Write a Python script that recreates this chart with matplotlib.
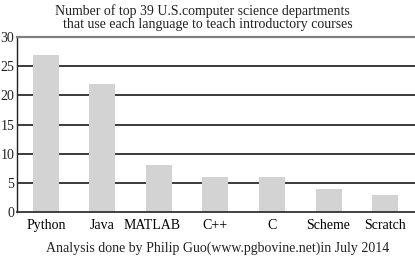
import matplotlib
matplotlib.use("Agg")
import matplotlib.pyplot as plt
from matplotlib.transforms import ScaledTranslation

languages = ["Python", "Java", "MATLAB", "C++", "C", "Scheme", "Scratch"]
counts = [27, 22, 8, 6, 6, 4, 3]
yticks = [0, 5, 10, 15, 20, 25, 30]

plt.rcParams['font.family'] = ['Liberation Serif', 'DejaVu Serif']

fig = plt.figure(figsize=(4.15, 2.61), dpi=100)
ax = fig.add_axes([17/415, 49/261, (415-17)/415, (211-36)/261])

for y in yticks[1:-1]:
    ax.axhline(y, color='#1a1a1a', lw=1.2, zorder=0)
x = list(range(len(languages)))
ax.bar(x, counts, width=0.46, color='#d3d3d3', zorder=2)

ax.set_xlim(-0.51, 6.53)
ax.set_ylim(0, 30)
ax.set_yticks(yticks)
ax.set_xticks(x)
ax.set_xticklabels(languages, fontsize=10)
ax.tick_params(axis='y', labelsize=10, length=0, pad=2)
ax.tick_params(axis='x', length=0, pad=5)
for lbl in ax.get_yticklabels():
    lbl.set_color('#222222')

ax.spines['right'].set_visible(False)
ax.spines['top'].set_color('#808080')
ax.spines['top'].set_linewidth(1.6)
ax.spines['left'].set_color('#222222')
ax.spines['bottom'].set_color('#222222')
ax.spines['left'].set_linewidth(1.0)
ax.spines['bottom'].set_linewidth(1.2)

# MATLAB label shifted slightly left as in the reference
lbls = ax.get_xticklabels()
off = ScaledTranslation(-7/100, 0, fig.dpi_scale_trans)
lbls[2].set_transform(lbls[2].get_transform() + off)

fig.text(202/415, 1 - 11.5/261, "Number of top 39 U.S.computer science departments",
         ha='center', va='center', fontsize=10, color='#222222')
fig.text(208/415, 1 - 24.5/261, "that use each language to teach introductory courses",
         ha='center', va='center', fontsize=10, color='#222222')
fig.text(218/415, 1 - 248/261, "Analysis done by Philip Guo(www.pgbovine.net)in July 2014",
         ha='center', va='center', fontsize=10, color='#222222')

fig.savefig("out.png", dpi=100)
